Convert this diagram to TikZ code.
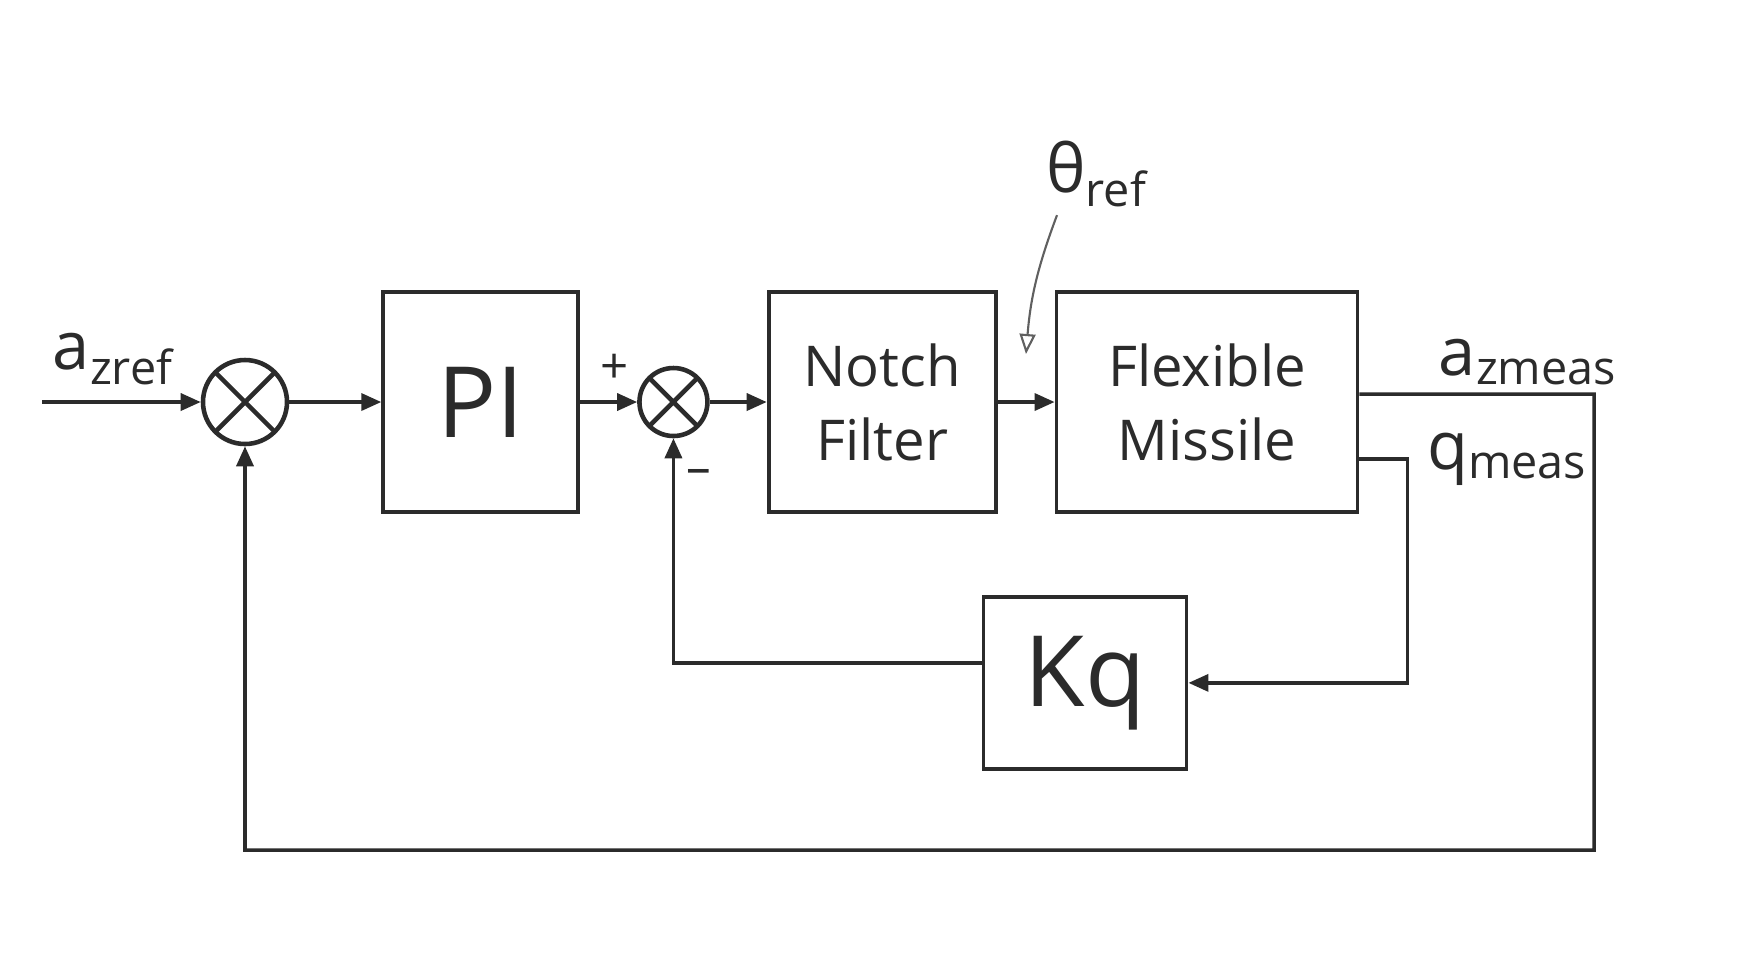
\documentclass[tikz,border=0pt]{standalone}
\usepackage{fontspec}
\setmainfont{Open Sans}
\usetikzlibrary{positioning, arrows.meta, calc}
\definecolor{ink}{HTML}{2B2B2B}
\definecolor{paper}{HTML}{FFFFFF}

\begin{document}
\begin{tikzpicture}[
    node distance=0.57cm,
    block/.style={rectangle, draw=ink, line width=1.1pt, text=ink,
                  minimum height=2.2cm, align=center,
                  font=\fontsize{16}{21}\selectfont},
    sumnode/.style={circle, draw=ink, line width=1.3pt, inner sep=0pt,
                    minimum size=0.84cm,
                    path picture={\draw[ink, line width=1.3pt]
                      (path picture bounding box.south west) -- (path picture bounding box.north east)
                      (path picture bounding box.north west) -- (path picture bounding box.south east);}},
    signal/.style={text=ink, font=\fontsize{19}{22}\selectfont, inner sep=2pt},
    sgn/.style={text=ink, font=\fontsize{14}{16}\selectfont, inner sep=0pt},
    arrow/.style={-{Triangle[length=0.2cm, width=0.17cm]}, line width=1pt, ink}
  ]
    \fill[paper] (0,0) rectangle (17.64,-9.57);
    \useasboundingbox (0,0) rectangle (17.64,-9.57);

    \coordinate (in) at (0.42,-4.02);
    \node[sumnode] (s1) at (2.45,-4.02) {};
    \node[block, minimum width=1.95cm, right=0.92cm of s1, font=\fontsize{28}{30}\selectfont] (pi) {PI};
    \node[sumnode, minimum size=0.68cm, right=of pi] (s2) {};
    \node[block, minimum width=2.27cm, right=of s2] (notch) {Notch\\Filter};
    \node[block, minimum width=3.01cm, right=of notch] (missile) {Flexible\\Missile};
    \node[block, minimum width=2.03cm, minimum height=1.72cm, below=0.81cm of missile,
          xshift=-1.22cm, font=\fontsize{28}{30}\selectfont] (kq) {Kq};

    \node[sgn, above left=0.18cm and 0.08cm of s2.west] (plus) {+};
    \node[sgn, below right=0.3cm and 0.12cm of s2.south] (minus) {–};

    \node[signal] (thref) at (10.97,-1.74) {θ\textsubscript{ref}};
    \coordinate (thtip) at (10.26,-3.54);

    % forward path
    \draw[arrow] (in) -- (s1.west) node[signal, pos=0.45, above, yshift=0.08cm] (azref) {a\textsubscript{zref}};
    \draw[arrow] (s1) -- (pi);
    \draw[arrow] (pi) -- (s2);
    \draw[arrow] (s2) -- (notch);
    \draw[arrow] (notch) -- (missile);
    \draw[-{Triangle[open, length=0.2cm, width=0.16cm]}, line width=0.6pt, ink!75]
      ([xshift=-0.4cm]thref.south) to[bend right=8] (thtip);

    % outer loop
    \coordinate (azcorner) at (15.94,-3.94);
    \coordinate (azlow) at (15.94,-8.5);
    \draw[arrow] ([yshift=0.08cm]missile.east) -- (azcorner)
      node[signal, pos=0.72, above] (azmeas) {a\textsubscript{zmeas}}
      -- (azlow) -| (s1.south);

    % inner loop
    \draw[arrow] ([yshift=-0.57cm]missile.east) -- ++(0.48,0) coordinate (qcorner) |- (kq.east);
    \node[signal, right=0.12cm of qcorner] (qmeas) {q\textsubscript{meas}};
    \draw[arrow] ([yshift=0.2cm]kq.west) -| (s2.south);
\end{tikzpicture}
\end{document}
